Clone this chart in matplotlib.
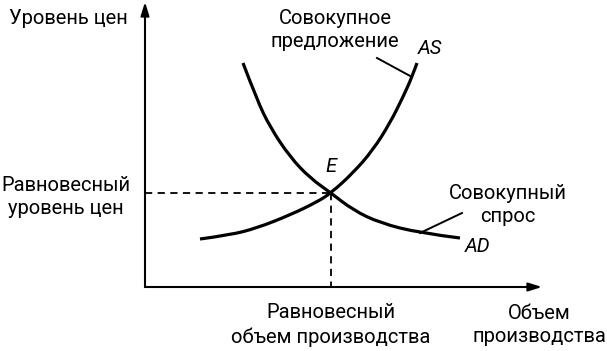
import matplotlib
matplotlib.use("Agg")
import matplotlib.pyplot as plt
from matplotlib.path import Path
from matplotlib.patches import PathPatch

# Aggregate demand curve (quantity, price)
ad_q = [9.8, 11.2, 12.5, 14.5, 16.5, 18.6, 20.8, 23.5, 27.5, 31.5]
ad_p = [22.4, 18.7, 16.0, 13.0, 10.9, 9.4, 7.7, 6.4, 5.4, 4.9]
# Aggregate supply curve
as_q = [5.5, 8.5, 11.2, 14.5, 17.2, 18.6, 20.8, 22.8, 24.5, 25.8, 26.7, 27.2]
as_p = [4.8, 5.2, 5.9, 7.2, 8.5, 9.4, 11.4, 13.7, 16.4, 19.0, 21.0, 22.4]
# Equilibrium
eq_q, eq_p = 18.6, 9.4

plt.rcParams['font.family'] = ['Roboto', 'DejaVu Sans']

fig = plt.figure(figsize=(6.07, 3.51), dpi=100)
ax = fig.add_axes([0, 0, 1, 1])
ax.set_xlim(-14.5, 46.2)
ax.set_ylim(-6.4, 28.7)
ax.axis('off')

fs = 14.5


def smooth_curve(xs, ys, **kw):
    pts = list(zip(xs, ys))
    verts = [pts[0]]
    codes = [Path.MOVETO]
    n = len(pts)
    for i in range(1, n - 1):
        ctrl = pts[i]
        if i < n - 2:
            end = ((pts[i][0] + pts[i + 1][0]) / 2, (pts[i][1] + pts[i + 1][1]) / 2)
        else:
            end = pts[-1]
        verts += [ctrl, end]
        codes += [Path.CURVE3, Path.CURVE3]
    patch = PathPatch(Path(verts, codes), fill=False, **kw)
    ax.add_patch(patch)


# axes arrows
ax.annotate('', xy=(0, 28.5), xytext=(0, 0),
            arrowprops=dict(arrowstyle='-|>,head_length=0.8,head_width=0.25', lw=1.5, color='black', shrinkA=0, shrinkB=0))
ax.annotate('', xy=(39.7, 0), xytext=(0, 0),
            arrowprops=dict(arrowstyle='-|>,head_length=0.8,head_width=0.25', lw=1.5, color='black', shrinkA=0, shrinkB=0))

# dashed guides
ax.plot([0, eq_q], [eq_p, eq_p], ls=(0, (4, 3)), lw=1.3, color='black')
ax.plot([eq_q, eq_q], [eq_p, 0], ls=(0, (4, 3)), lw=1.3, color='black')

# curves
smooth_curve(ad_q, ad_p, edgecolor='black', lw=2.3, capstyle='butt')
smooth_curve(as_q, as_p, edgecolor='black', lw=2.3, capstyle='butt')

# leader lines
ax.plot([23.2, 26.7], [22.9, 21.0], color='black', lw=1.4)
ax.plot([27.5, 31.7], [5.4, 7.4], color='black', lw=1.4)

# labels
ax.text(-1.7, 26.9, 'Уровень цен', ha='right', va='center', fontsize=fs)
ax.text(-7.9, 9.0, 'Равновесный\nуровень цен', ha='center', va='center', fontsize=fs, linespacing=1.3)
ax.text(19.0, 25.7, 'Совокупное\nпредложение', ha='center', va='center', fontsize=fs, linespacing=1.3)
ax.text(28.5, 23.9, 'AS', ha='center', va='center', fontsize=fs, style='italic')
ax.text(18.6, 12.0, 'E', ha='center', va='center', fontsize=fs, style='italic')
ax.text(36.3, 8.2, 'Совокупный\nспрос', ha='center', va='center', fontsize=fs, linespacing=1.3)
ax.text(33.3, 4.0, 'AD', ha='center', va='center', fontsize=fs, style='italic')
ax.text(18.6, -3.8, 'Равновесный\nобъем производства', ha='center', va='center', fontsize=fs, linespacing=1.3)
ax.text(39.4, -3.8, 'Объем\nпроизводства', ha='center', va='center', fontsize=fs, linespacing=1.3)

fig.savefig('out.png', dpi=100)
